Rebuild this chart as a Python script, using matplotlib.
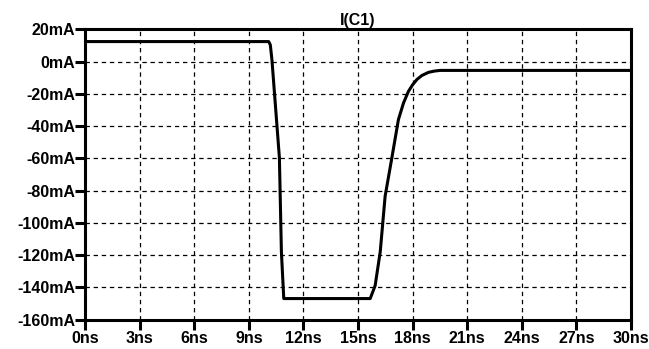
import matplotlib.pyplot as plt
from matplotlib.ticker import FuncFormatter

# I(C1) transient
t_ns = [0, 10.09, 10.18, 10.27, 10.68, 10.79, 10.92, 15.67, 15.94,
        16.22, 16.49, 16.86, 17.22, 17.5, 17.77, 18.0, 18.23, 18.5, 18.87,
        19.2, 19.51, 30]
i_ma = [12.5, 12.5, 10.5, 1.2, -59.6, -118, -147, -147, -139,
        -118, -83.4, -59.6, -35.9, -25.6, -18.4, -14.3, -11.1, -8.6, -6.6,
        -5.8, -5.4, -5.4]

x_ticks = list(range(0, 31, 3))
y_ticks = list(range(-160, 21, 20))
title = "I(C1)"

plt.rcParams["font.family"] = ["Liberation Sans", "DejaVu Sans"]
plt.rcParams["font.weight"] = "bold"

fig = plt.figure(figsize=(6.49, 3.49), dpi=100)
ax = fig.add_axes([0.131, 0.0845, 0.8413, 0.831])

ax.plot(t_ns, i_ma, color="black", lw=2.2, solid_joinstyle="round")

ax.set_xlim(0, 30)
ax.set_ylim(-160, 20)
ax.set_xticks(x_ticks)
ax.set_yticks(y_ticks)
ax.xaxis.set_major_formatter(FuncFormatter(lambda v, p: f"{v:.0f}ns"))
ax.yaxis.set_major_formatter(FuncFormatter(lambda v, p: f"{v:.0f}mA"))
ax.tick_params(direction="out", length=7, width=2.2, labelsize=11.5,
               pad=0)
ax.tick_params(axis="x", pad=1)
for lab in ax.get_xticklabels() + ax.get_yticklabels():
    lab.set_fontweight("bold")

ax.grid(True, color="black", lw=0.9, linestyle=(0, (3.5, 3)))
for s in ax.spines.values():
    s.set_linewidth(2.2)

ax.set_title(title, fontsize=11.5, fontweight="bold", pad=3)

fig.savefig("out.png", dpi=100)
